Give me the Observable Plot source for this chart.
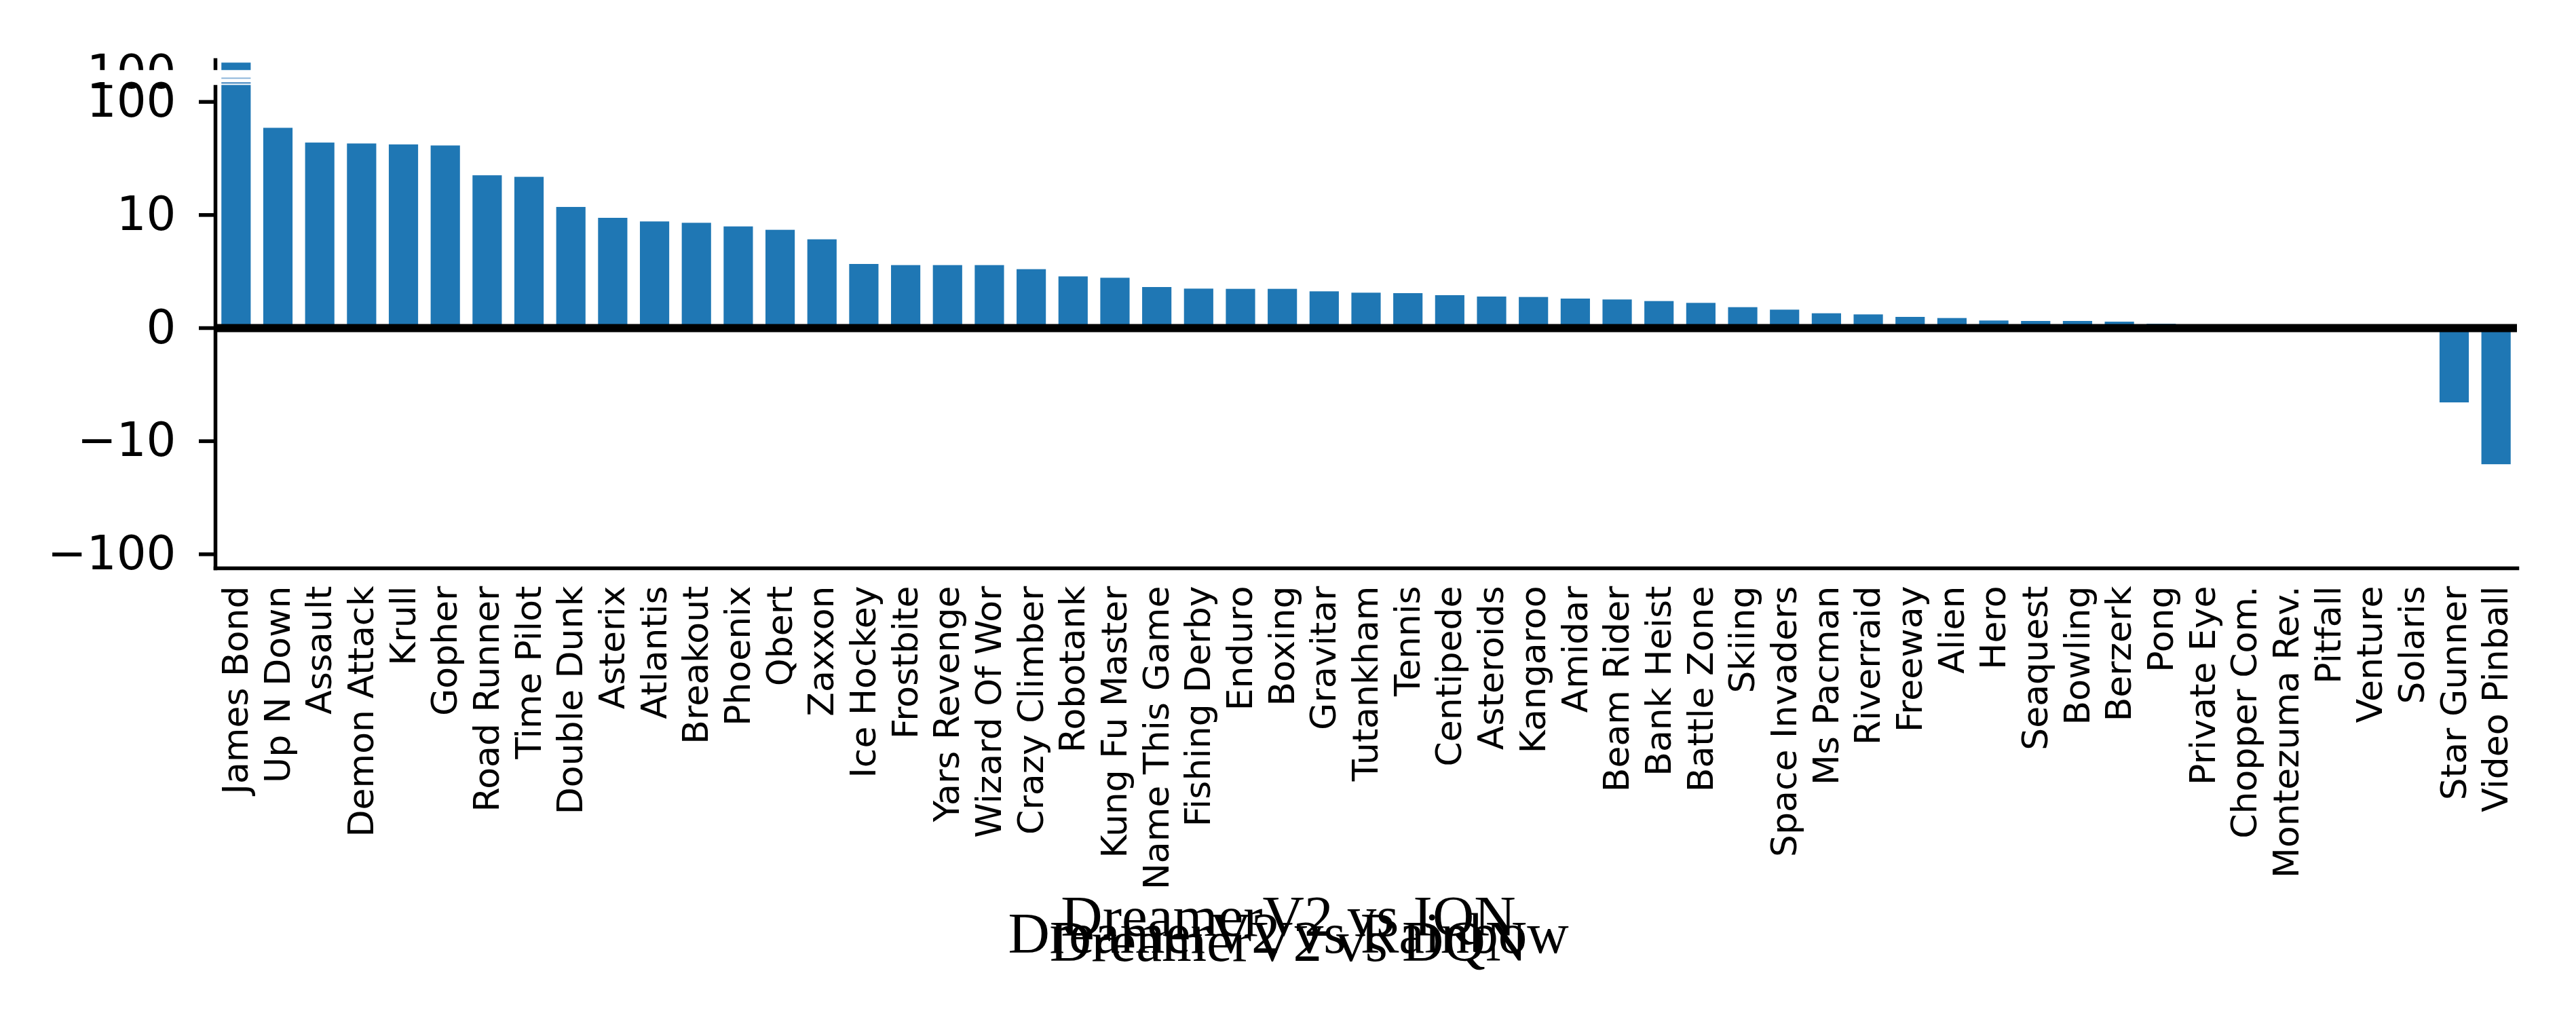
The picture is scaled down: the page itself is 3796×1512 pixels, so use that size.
<!DOCTYPE html>
<html>
<head>
<meta charset="utf-8">
<script src="https://cdn.jsdelivr.net/npm/d3@7"></script>
<script src="https://cdn.jsdelivr.net/npm/@observablehq/plot@0.6"></script>
<style>
  html, body { margin: 0; padding: 0; background: #ffffff; }
  #chart svg { display: block; }
</style>
</head>
<body>
<div id="chart"></div>
<script>
// ---- data ----
const games = [
  "James Bond", "Up N Down", "Assault", "Demon Attack", "Krull", "Gopher",
  "Road Runner", "Time Pilot", "Double Dunk", "Asterix", "Atlantis", "Breakout",
  "Phoenix", "Qbert", "Zaxxon", "Ice Hockey", "Frostbite", "Yars Revenge",
  "Wizard Of Wor", "Crazy Climber", "Robotank", "Kung Fu Master", "Name This Game",
  "Fishing Derby", "Enduro", "Boxing", "Gravitar", "Tutankham", "Tennis",
  "Centipede", "Asteroids", "Kangaroo", "Amidar", "Beam Rider", "Bank Heist",
  "Battle Zone", "Skiing", "Space Invaders", "Ms Pacman", "Riverraid", "Freeway",
  "Alien", "Hero", "Seaquest", "Bowling", "Berzerk", "Pong", "Private Eye",
  "Chopper Com.", "Montezuma Rev.", "Pitfall", "Venture", "Solaris",
  "Star Gunner", "Video Pinball"
];
const values = [
  221, 58.6, 43.4, 42.6, 41.8, 40.9,
  22.3, 21.6, 11.7, 9.72, 9.4, 9.28,
  8.96, 8.66, 7.82, 5.64, 5.54, 5.54,
  5.54, 5.18, 4.54, 4.42, 3.60,
  3.46, 3.44, 3.44, 3.22, 3.10, 3.06,
  2.88, 2.76, 2.72, 2.58, 2.50, 2.36,
  2.20, 1.82, 1.60, 1.28, 1.18, 0.96,
  0.86, 0.64, 0.60, 0.60, 0.54, 0.35, 0,
  0, 0, 0, 0, 0,
  -6.6, -16.1
];
const yTicks = [-100, -10, 0, 10, 100];
const titles = ["DreamerV2 vs IQN", "DreamerV2 vs Rainbow", "DreamerV2 vs DQN"];

const data = games.map((g, i) => ({game: g, value: values[i]}));

// matplotlib-style symlog (linthresh = 10)
const symlog = v => Math.abs(v) <= 10 ? v / 10 : Math.sign(v) * (1 + Math.log10(Math.abs(v) / 10));
const fmt = d => d < 0 ? "\u2212" + (-d) : String(d);

const serif = "'Liberation Serif', 'DejaVu Serif', serif";

const chart = Plot.plot({
  width: 3796,
  height: 1512,
  marginLeft: 317,
  marginRight: 87,
  marginTop: 88,
  marginBottom: 675,
  style: {fontFamily: "'DejaVu Sans', sans-serif", background: "#ffffff", color: "#000000", overflow: "visible"},
  x: {type: "band", domain: games, paddingInner: 0.3, paddingOuter: 0.15, label: null},
  y: {type: "linear", transform: symlog, domain: [-2.124, 2.37], label: null},
  marks: [
    Plot.barY(data, {x: "game", y: "value", fill: "#1f77b4"}),
    Plot.frame({anchor: "left", stroke: "#000", strokeWidth: 5.5}),
    Plot.frame({anchor: "bottom", stroke: "#000", strokeWidth: 5.5}),
    Plot.ruleY([0], {stroke: "#000", strokeWidth: 12}),
    // overlapped duplicate tick label glitch at the top
    Plot.text([yTicks[4]], {y: d => d, text: fmt, frameAnchor: "left", dx: -58, dy: -42,
      textAnchor: "end", lineAnchor: "middle", fontSize: 69, fill: "#000"}),
    Plot.ruleY([yTicks[4]], {dy: -36, stroke: "#ffffff", strokeWidth: 22, insetLeft: -230}),
    Plot.tickY([data[0]], {x: "game", y: () => yTicks[4], dy: -35, stroke: "#8db6da", strokeWidth: 2}),
    Plot.tickY([data[0]], {x: "game", y: () => yTicks[4], dy: -28, stroke: "#5d97c9", strokeWidth: 2.5}),
    Plot.axisY(yTicks, {tickSize: 24, tickPadding: 34, tickFormat: fmt, fontSize: 69,
      strokeWidth: 5.5, label: null}),
    Plot.axisX({tickSize: 0, tickPadding: 26, tickRotate: -90, fontSize: 52, label: null}),
    Plot.text([titles[0]], {text: d => d, frameAnchor: "bottom", dx: -115, dy: 1378 - 837,
      lineAnchor: "bottom", textAnchor: "middle", fontFamily: serif, fontSize: 85, fill: "#000"}),
    Plot.text([titles[1]], {text: d => d, frameAnchor: "bottom", dx: -115, dy: 1403 - 837,
      lineAnchor: "bottom", textAnchor: "middle", fontFamily: serif, fontSize: 85, fill: "#000"}),
    Plot.text([titles[2]], {text: d => d, frameAnchor: "bottom", dx: -115, dy: 1415 - 837,
      lineAnchor: "bottom", textAnchor: "middle", fontFamily: serif, fontSize: 85, fill: "#000"})
  ]
});
document.getElementById("chart").appendChild(chart);
</script>
</body>
</html>
